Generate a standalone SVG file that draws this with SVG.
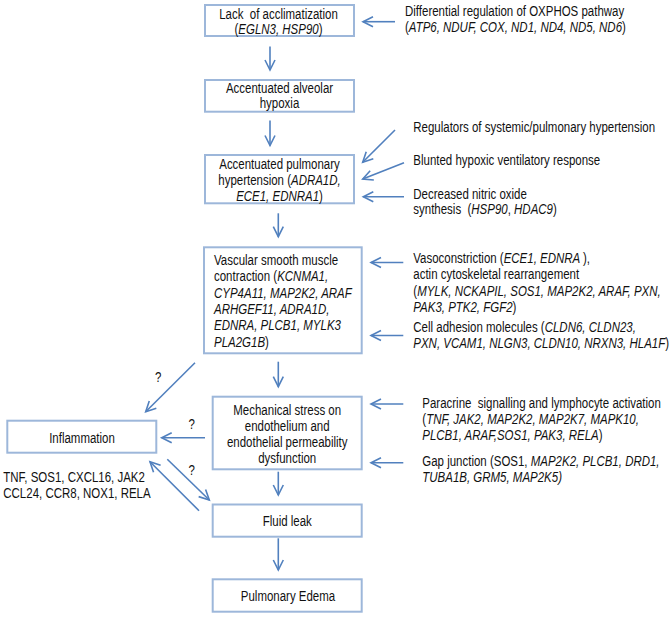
<svg xmlns="http://www.w3.org/2000/svg" width="669" height="617" viewBox="0 0 669 617">
<defs>
<style>
.t{font-family:"Liberation Sans",Arial,sans-serif;font-size:14px;fill:#111}
.c{text-anchor:middle}
.i{font-style:italic}
.box{fill:#fff;stroke:#9db7da;stroke-width:2}
.ar{fill:none;stroke:#5180be;stroke-width:1.6;marker-end:url(#ah)}
</style>
<marker id="ah" markerUnits="userSpaceOnUse" markerWidth="14" markerHeight="14" refX="11" refY="6" orient="auto" viewBox="0 0 14 12">
<path d="M1,1 L11,6 L1,11" fill="none" stroke="#5180be" stroke-width="1.6"/>
</marker>
</defs>
<rect width="669" height="617" fill="#fff"/>

<g id="connectors">
<line class="ar" x1="270" y1="46.5" x2="270" y2="70"/>
<line class="ar" x1="270" y1="120.5" x2="270" y2="145.5"/>
<line class="ar" x1="278.3" y1="213.3" x2="278.3" y2="236.7"/>
<line class="ar" x1="278.3" y1="361.7" x2="278.3" y2="386.7"/>
<line class="ar" x1="278.3" y1="471.7" x2="278.3" y2="495"/>
<line class="ar" x1="278.3" y1="538.3" x2="278.3" y2="570"/>
<line class="ar" x1="395" y1="21.7" x2="363" y2="21.7"/>
<line class="ar" x1="395" y1="130" x2="362.7" y2="162.3"/>
<line class="ar" x1="404" y1="162.7" x2="362.7" y2="179"/>
<line class="ar" x1="404" y1="196.7" x2="363.3" y2="196.7"/>
<line class="ar" x1="403.3" y1="262.5" x2="371" y2="262.5"/>
<line class="ar" x1="403.3" y1="335.5" x2="371" y2="335.5"/>
<line class="ar" x1="403.3" y1="404" x2="371" y2="404"/>
<line class="ar" x1="403.3" y1="462.7" x2="371" y2="462.7"/>
<line class="ar" x1="195" y1="362.7" x2="145.7" y2="411.7"/>
<line class="ar" x1="205" y1="437.7" x2="161.7" y2="437.7"/>
<line class="ar" x1="167.3" y1="459.3" x2="209.3" y2="500"/>
<line class="ar" x1="199" y1="510.7" x2="150" y2="461.7"/>
<text class="t c" transform="translate(158.3,381.5) scale(0.82,1)">?</text>
<text class="t c" transform="translate(191.7,429) scale(0.82,1)">?</text>
<text class="t c" transform="translate(191.7,474.5) scale(0.82,1)">?</text>
</g>

<g id="n-lack">
<rect class="box" x="205" y="5" width="149" height="31"/>
<text class="t c" transform="translate(278.5,18.5) scale(0.82,1)" xml:space="preserve">Lack  of acclimatization</text>
<text class="t c" transform="translate(278.5,34.3) scale(0.82,1)">(<tspan class="i">EGLN3, HSP90</tspan>)</text>
</g>

<g id="n-hypoxia">
<rect class="box" x="205" y="80" width="149" height="31.7"/>
<text class="t c" transform="translate(279.5,93) scale(0.82,1)">Accentuated alveolar</text>
<text class="t c" transform="translate(279.5,108) scale(0.82,1)">hypoxia</text>
</g>

<g id="n-pulmhyp">
<rect class="box" x="205" y="155" width="149" height="48.3"/>
<text class="t c" transform="translate(279.5,168.5) scale(0.82,1)">Accentuated pulmonary</text>
<text class="t c" transform="translate(279.5,184.5) scale(0.82,1)">hypertension (<tspan class="i">ADRA1D,</tspan></text>
<text class="t c" transform="translate(279.5,200.5) scale(0.82,1)"><tspan class="i">ECE1, EDNRA1</tspan>)</text>
</g>

<g id="n-vsmc">
<rect class="box" x="204" y="247.3" width="157.7" height="106"/>
<text class="t" transform="translate(214,265) scale(0.82,1)">Vascular smooth muscle</text>
<text class="t" transform="translate(214,281.3) scale(0.82,1)">contraction (<tspan class="i">KCNMA1,</tspan></text>
<text class="t i" transform="translate(214,297.6) scale(0.82,1)">CYP4A11, MAP2K2, ARAF</text>
<text class="t i" transform="translate(214,313.9) scale(0.82,1)">ARHGEF11, ADRA1D,</text>
<text class="t i" transform="translate(214,330.2) scale(0.82,1)">EDNRA, PLCB1, MYLK3</text>
<text class="t" transform="translate(214,346.5) scale(0.82,1)"><tspan class="i">PLA2G1B</tspan>)</text>
</g>

<g id="n-mech">
<rect class="box" x="212.7" y="396.7" width="149" height="72.6"/>
<text class="t c" transform="translate(287.2,415) scale(0.82,1)">Mechanical stress on</text>
<text class="t c" transform="translate(287.2,431) scale(0.82,1)">endothelium and</text>
<text class="t c" transform="translate(287.2,447.3) scale(0.82,1)">endothelial permeability</text>
<text class="t c" transform="translate(287.2,463.3) scale(0.82,1)">dysfunction</text>
</g>

<g id="n-inflam">
<rect class="box" x="7.3" y="420.7" width="149" height="32"/>
<text class="t c" transform="translate(82,442.5) scale(0.82,1)">Inflammation</text>
</g>

<g id="n-inflam-genes">
<text class="t" transform="translate(3.3,481.5) scale(0.82,1)">TNF, SOS1, CXCL16, JAK2</text>
<text class="t" transform="translate(3.3,498) scale(0.82,1)">CCL24, CCR8, NOX1, RELA</text>
</g>

<g id="n-fluid">
<rect class="box" x="212.7" y="504.5" width="149" height="32.2"/>
<text class="t c" transform="translate(287.3,526.3) scale(0.82,1)">Fluid leak</text>
</g>

<g id="n-edema">
<rect class="box" x="212.7" y="579.3" width="149" height="32.4"/>
<text class="t c" transform="translate(288,601.3) scale(0.82,1)">Pulmonary Edema</text>
</g>

<g id="n-oxphos">
<text class="t" transform="translate(405,15.7) scale(0.82,1)">Differential regulation of OXPHOS pathway</text>
<text class="t" transform="translate(405,31.9) scale(0.82,1)">(<tspan class="i">ATP6, NDUF, COX, ND1, ND4, ND5, ND6</tspan>)</text>
</g>

<g id="n-regulators">
<text class="t" transform="translate(413.3,132) scale(0.82,1)">Regulators of systemic/pulmonary hypertension</text>
</g>

<g id="n-blunted">
<text class="t" transform="translate(413.3,165) scale(0.82,1)">Blunted hypoxic ventilatory response</text>
</g>

<g id="n-nitric">
<text class="t" transform="translate(413.3,198.5) scale(0.82,1)">Decreased nitric oxide</text>
<text class="t" transform="translate(413.3,213.5) scale(0.82,1)" xml:space="preserve">synthesis  (<tspan class="i">HSP90</tspan>, <tspan class="i">HDAC9</tspan>)</text>
</g>

<g id="n-vaso">
<text class="t" transform="translate(413.3,263.3) scale(0.82,1)">Vasoconstriction (<tspan class="i">ECE1, EDNRA </tspan>),</text>
<text class="t" transform="translate(413.3,279.3) scale(0.82,1)">actin cytoskeletal rearrangement</text>
<text class="t" transform="translate(413.3,295.5) scale(0.82,1)">(<tspan class="i">MYLK, NCKAPIL, SOS1, MAP2K2, ARAF, PXN,</tspan></text>
<text class="t" transform="translate(413.3,311.5) scale(0.82,1)"><tspan class="i">PAK3, PTK2, FGF2</tspan>)</text>
</g>

<g id="n-adhesion">
<text class="t" transform="translate(413.3,332.3) scale(0.82,1)">Cell adhesion molecules (<tspan class="i">CLDN6, CLDN23,</tspan></text>
<text class="t" transform="translate(413.3,348.2) scale(0.82,1)"><tspan class="i">PXN, VCAM1, NLGN3, CLDN10, NRXN3, HLA1F</tspan>)</text>
</g>

<g id="n-paracrine">
<text class="t" transform="translate(422.3,408) scale(0.82,1)" xml:space="preserve">Paracrine  signalling and lymphocyte activation</text>
<text class="t" transform="translate(422.3,424) scale(0.82,1)">(<tspan class="i">TNF, JAK2, MAP2K2, MAP2K7, MAPK10,</tspan></text>
<text class="t" transform="translate(422.3,439.5) scale(0.82,1)"><tspan class="i">PLCB1, ARAF,SOS1, PAK3, RELA</tspan>)</text>
</g>

<g id="n-gap">
<text class="t" transform="translate(422.3,466.3) scale(0.82,1)">Gap junction (SOS1, <tspan class="i">MAP2K2, PLCB1, DRD1,</tspan></text>
<text class="t i" transform="translate(422.3,481.8) scale(0.82,1)">TUBA1B, GRM5, MAP2K5)</text>
</g>
</svg>
